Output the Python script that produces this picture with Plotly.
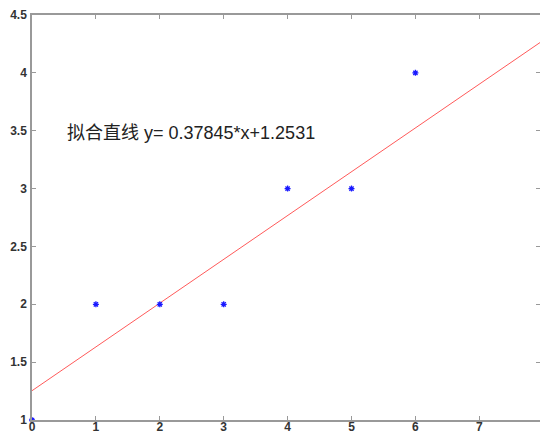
import plotly.graph_objects as go

x_data = [0, 1, 2, 3, 4, 5, 6]
y_data = [1, 2, 2, 2, 3, 3, 4]
fit_x = [0, 7.95]
fit_y = [1.2531, 4.2618]
label = "拟合直线 y= 0.37845*x+1.2531"
x_ticks = [0, 1, 2, 3, 4, 5, 6, 7]
y_ticks = [1, 1.5, 2, 2.5, 3, 3.5, 4, 4.5]

fig = go.Figure()
fig.add_trace(go.Scatter(x=fit_x, y=fit_y, mode="lines",
                         line=dict(color="#ff5a5a", width=1), cliponaxis=False))
fig.add_trace(go.Scatter(x=x_data, y=y_data, mode="markers",
                         marker=dict(symbol="asterisk-open", size=5, color="#1a1aff",
                                     line=dict(color="#1a1aff", width=1.3)),
                         cliponaxis=False))
fig.add_annotation(x=0.52, y=3.48, text=label, showarrow=False, xanchor="left",
                   yanchor="middle",
                   font=dict(family="Liberation Sans, Noto Sans CJK SC, sans-serif",
                             size=18, color="#222"))

axis_common = dict(showline=True, linecolor="#999", linewidth=1.5, mirror="ticks",
                   ticks="inside", ticklen=4, tickcolor="#999", showgrid=False,
                   zeroline=False, automargin=False,
                   tickfont=dict(family="Liberation Sans, Arial, sans-serif",
                                 size=12, weight="bold", color="#333"))
fig.update_xaxes(range=[0, 7.95], tickvals=x_ticks, ticklabelstandoff=-5, **axis_common)
fig.update_yaxes(range=[1, 4.5], tickvals=y_ticks, ticklabelstandoff=1, **axis_common)
fig.update_layout(width=540, height=435, showlegend=False,
                  margin=dict(l=32, r=0, t=15, b=15),
                  plot_bgcolor="white", paper_bgcolor="white")
fig.write_html("out.html", config={"displayModeBar": False},
               post_script="document.body.style.margin='0';document.body.style.overflow='hidden';")
